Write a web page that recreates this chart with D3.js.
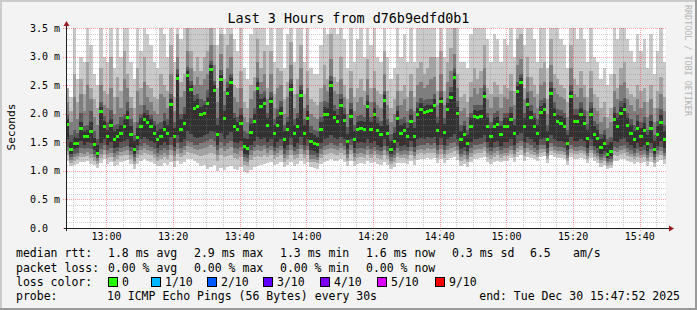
<!DOCTYPE html>
<meta charset="utf-8">
<style>
body {
  margin: 0;
  background: #f3f3f3;
}
text {
  font-family: "DejaVu Sans Mono", monospace;
  fill: #000;
}
</style>
<body>
<script src="https://cdn.jsdelivr.net/npm/d3@7/dist/d3.min.js"></script>
<script>

// one point per minute, 12:47:52 -> 15:47:52
var startTime = new Date(2025, 11, 30, 12, 47, 52),
    endTime = new Date(2025, 11, 30, 15, 47, 52);

var median = [
  1.82,1.38,1.49,1.49,1.75,1.61,1.61,1.70,1.47,1.31, 2.05,1.78,1.61,1.80,1.56,1.61,1.66,1.78,1.94,1.64,
  1.38,1.60,1.79,1.91,1.85,1.79,1.66,1.56,1.61,1.73, 1.66,2.17,1.61,2.62,1.74,1.84,2.68,2.43,2.10,2.13,
  2.00,2.01,2.19,2.78,2.41,1.64,2.61,1.93,2.36,2.55, 1.79,1.73,1.84,1.43,1.40,1.68,1.87,2.45,2.13,2.19,
  1.80,2.22,1.66,1.80,2.01,1.56,1.73,2.43,1.66,1.79, 2.33,1.66,1.93,1.52,1.49,1.47,1.73,2.00,2.00,2.50,
  1.94,1.87,2.15,1.89,1.52,1.96,1.56,1.73,1.75,1.73, 2.13,1.73,2.00,1.71,1.64,2.24,1.66,1.38,1.52,1.93,
  1.66,1.71,1.61,1.87,1.61,2.00,2.08,2.03,2.05,2.06, 2.15,1.71,2.22,1.68,2.08,2.29,2.64,2.01,1.56,1.64,
  1.49,1.79,1.96,1.94,1.96,2.31,1.79,1.61,1.79,1.82, 1.64,1.79,1.79,1.91,1.66,2.40,2.55,1.79,2.17,1.94,
  1.79,1.66,2.03,2.08,1.56,2.36,2.00,1.87,1.84,1.79, 1.49,2.31,1.87,1.87,2.00,1.84,1.58,2.00,1.64,1.58,
  1.42,1.49,1.30,1.35,1.91,1.79,2.01,2.08,1.80,1.66, 1.56,1.75,1.61,1.71,1.49,1.75,1.38,1.64,1.86,1.56
];

// sorted pings, rank 1 (fastest) .. rank 10 (slowest)
var ping1 = [
  1.18,1.08,1.10,1.12,1.15,1.16,1.17,1.12,1.10,1.05, 1.14,1.20,1.12,1.15,1.08,1.10,1.16,1.18,1.19,1.12,
  1.04,1.12,1.18,1.20,1.18,1.16,1.12,1.08,1.09,1.14, 1.10,1.16,1.06,1.18,1.12,1.15,1.20,1.20,1.17,1.14,
  1.08,1.10,1.04,1.06,1.10,1.00,1.05,1.02,1.06,1.08, 1.04,1.02,1.06,0.98,0.96,1.02,1.06,1.08,1.10,1.12,
  1.14,1.16,1.10,1.12,1.16,1.06,1.10,1.15,1.08,1.12, 1.18,1.12,1.16,1.06,1.05,1.04,1.12,1.16,1.18,1.20,
  1.18,1.17,1.20,1.16,1.08,1.18,1.09,1.12,1.14,1.12, 1.17,1.13,1.16,1.12,1.10,1.16,1.11,1.04,1.07,1.14,
  1.13,1.13,1.12,1.17,1.11,1.19,1.21,1.20,1.22,1.21, 1.22,1.14,1.20,1.13,1.19,1.22,1.24,1.19,1.09,1.12,
  1.06,1.16,1.20,1.21,1.22,1.24,1.16,1.12,1.16,1.18, 1.15,1.18,1.18,1.22,1.16,1.24,1.28,1.18,1.25,1.22,
  1.20,1.17,1.25,1.26,1.14,1.28,1.24,1.22,1.22,1.20, 1.10,1.24,1.21,1.21,1.23,1.21,1.14,1.23,1.17,1.14,
  1.07,1.10,1.03,1.05,1.18,1.17,1.20,1.21,1.17,1.15, 1.12,1.16,1.13,1.15,1.09,1.16,1.07,1.15,1.19,1.12
];
var ping2 = [
  1.27,1.14,1.18,1.20,1.25,1.24,1.26,1.22,1.18,1.12, 1.23,1.30,1.22,1.25,1.18,1.20,1.26,1.28,1.28,1.21,
  1.12,1.22,1.28,1.32,1.29,1.27,1.23,1.18,1.20,1.24, 1.20,1.28,1.18,1.30,1.24,1.27,1.33,1.32,1.29,1.27,
  1.26,1.28,1.30,1.32,1.30,1.18,1.27,1.24,1.26,1.28, 1.22,1.20,1.24,1.10,1.08,1.19,1.24,1.26,1.25,1.28,
  1.24,1.28,1.20,1.24,1.28,1.16,1.21,1.28,1.20,1.23, 1.30,1.22,1.28,1.15,1.15,1.13,1.23,1.28,1.30,1.32,
  1.30,1.28,1.32,1.28,1.17,1.29,1.18,1.23,1.25,1.23, 1.28,1.23,1.27,1.22,1.20,1.28,1.21,1.12,1.16,1.25,
  1.22,1.22,1.21,1.27,1.20,1.29,1.31,1.30,1.32,1.31, 1.32,1.23,1.30,1.22,1.29,1.32,1.34,1.29,1.18,1.21,
  1.15,1.25,1.30,1.31,1.32,1.34,1.25,1.21,1.25,1.27, 1.23,1.26,1.26,1.30,1.24,1.33,1.36,1.26,1.33,1.30,
  1.27,1.24,1.32,1.33,1.21,1.35,1.31,1.29,1.29,1.27, 1.17,1.32,1.29,1.29,1.31,1.29,1.21,1.31,1.25,1.21,
  1.14,1.17,1.09,1.11,1.28,1.26,1.30,1.31,1.26,1.24, 1.20,1.25,1.22,1.24,1.17,1.25,1.14,1.24,1.28,1.20
];
var ping3 = [
  1.34,1.19,1.24,1.26,1.32,1.30,1.33,1.30,1.24,1.17, 1.30,1.37,1.29,1.32,1.25,1.27,1.33,1.35,1.36,1.28,
  1.18,1.29,1.36,1.40,1.37,1.34,1.30,1.25,1.28,1.32, 1.28,1.36,1.26,1.39,1.32,1.36,1.43,1.41,1.38,1.36,
  1.38,1.40,1.42,1.45,1.42,1.28,1.40,1.35,1.38,1.42, 1.32,1.30,1.34,1.18,1.16,1.28,1.34,1.37,1.35,1.38,
  1.32,1.36,1.27,1.32,1.36,1.23,1.28,1.37,1.27,1.30, 1.38,1.29,1.36,1.21,1.21,1.19,1.30,1.36,1.38,1.40,
  1.38,1.36,1.40,1.36,1.23,1.37,1.25,1.30,1.32,1.30, 1.36,1.30,1.34,1.29,1.27,1.36,1.28,1.18,1.22,1.32,
  1.28,1.29,1.27,1.34,1.26,1.36,1.38,1.37,1.40,1.38, 1.40,1.30,1.38,1.29,1.36,1.40,1.42,1.36,1.24,1.27,
  1.21,1.32,1.37,1.38,1.39,1.42,1.32,1.27,1.32,1.34, 1.29,1.32,1.32,1.36,1.30,1.40,1.44,1.32,1.40,1.37,
  1.33,1.30,1.38,1.39,1.26,1.41,1.37,1.35,1.35,1.33, 1.22,1.38,1.35,1.35,1.37,1.35,1.26,1.37,1.30,1.26,
  1.19,1.22,1.13,1.15,1.35,1.33,1.37,1.38,1.33,1.30, 1.26,1.31,1.28,1.30,1.22,1.31,1.19,1.30,1.35,1.26
];
var ping4 = [
  1.42,1.25,1.30,1.32,1.40,1.38,1.40,1.38,1.30,1.22, 1.38,1.45,1.36,1.40,1.32,1.34,1.40,1.42,1.44,1.35,
  1.25,1.36,1.44,1.48,1.45,1.42,1.38,1.32,1.36,1.40, 1.36,1.45,1.34,1.48,1.40,1.44,1.52,1.50,1.46,1.45,
  1.48,1.50,1.52,1.55,1.52,1.36,1.50,1.44,1.48,1.52, 1.40,1.38,1.42,1.24,1.22,1.36,1.42,1.46,1.44,1.46,
  1.40,1.44,1.34,1.40,1.44,1.30,1.36,1.45,1.34,1.38, 1.46,1.36,1.44,1.28,1.28,1.25,1.38,1.44,1.46,1.48,
  1.46,1.44,1.48,1.44,1.30,1.45,1.32,1.38,1.40,1.38, 1.44,1.38,1.42,1.36,1.34,1.44,1.35,1.24,1.28,1.40,
  1.35,1.36,1.34,1.42,1.33,1.44,1.46,1.45,1.48,1.46, 1.48,1.37,1.46,1.36,1.44,1.48,1.50,1.44,1.30,1.34,
  1.27,1.40,1.45,1.46,1.47,1.50,1.40,1.34,1.40,1.42, 1.36,1.40,1.40,1.44,1.37,1.48,1.52,1.40,1.48,1.45,
  1.40,1.36,1.45,1.46,1.32,1.48,1.44,1.42,1.42,1.40, 1.28,1.46,1.42,1.42,1.44,1.42,1.32,1.44,1.36,1.32,
  1.24,1.27,1.18,1.20,1.42,1.40,1.44,1.46,1.40,1.37, 1.32,1.38,1.34,1.37,1.28,1.38,1.24,1.36,1.42,1.32
];
var ping5 = [
  1.55,1.30,1.38,1.40,1.52,1.45,1.50,1.48,1.36,1.26, 1.48,1.55,1.45,1.50,1.40,1.42,1.50,1.52,1.55,1.42,
  1.30,1.45,1.55,1.60,1.56,1.52,1.48,1.40,1.45,1.50, 1.46,1.60,1.42,1.62,1.50,1.55,1.70,1.65,1.60,1.58,
  1.60,1.62,1.65,1.70,1.68,1.45,1.66,1.55,1.62,1.68, 1.50,1.48,1.52,1.30,1.28,1.45,1.52,1.60,1.55,1.58,
  1.50,1.55,1.42,1.50,1.55,1.38,1.45,1.58,1.42,1.48, 1.60,1.45,1.55,1.36,1.35,1.32,1.48,1.55,1.58,1.62,
  1.58,1.55,1.60,1.55,1.38,1.56,1.40,1.48,1.50,1.48, 1.55,1.48,1.52,1.46,1.42,1.55,1.44,1.30,1.36,1.50,
  1.44,1.46,1.42,1.52,1.42,1.55,1.58,1.56,1.60,1.58, 1.60,1.46,1.58,1.45,1.55,1.60,1.65,1.55,1.38,1.42,
  1.34,1.50,1.56,1.56,1.58,1.62,1.50,1.42,1.50,1.52, 1.44,1.50,1.50,1.55,1.45,1.62,1.66,1.50,1.60,1.56,
  1.50,1.45,1.56,1.58,1.40,1.62,1.55,1.52,1.52,1.50, 1.36,1.60,1.52,1.52,1.55,1.52,1.40,1.55,1.44,1.40,
  1.30,1.34,1.22,1.26,1.52,1.50,1.55,1.58,1.50,1.45, 1.40,1.48,1.42,1.46,1.35,1.48,1.30,1.44,1.52,1.40
];
var ping6 = [
  1.90,1.50,1.60,1.58,1.85,1.70,1.72,1.86,1.58,1.45, 2.12,1.88,1.72,1.90,1.70,1.74,1.80,1.90,2.05,1.78,
  1.52,1.75,1.92,2.02,1.98,1.90,1.80,1.70,1.74,1.88, 1.80,2.25,1.75,2.70,1.90,2.00,2.75,2.50,2.22,2.25,
  2.12,2.15,2.30,2.85,2.50,1.80,2.68,2.05,2.45,2.62, 1.92,1.86,1.98,1.58,1.55,1.82,2.00,2.55,2.25,2.30,
  1.92,2.30,1.80,1.95,2.12,1.70,1.85,2.52,1.80,1.92, 2.42,1.80,2.05,1.66,1.62,1.60,1.86,2.12,2.10,2.58,
  2.05,1.98,2.25,2.00,1.65,2.08,1.70,1.85,1.88,1.86, 2.22,1.85,2.10,1.84,1.78,2.32,1.80,1.52,1.66,2.04,
  1.80,1.84,1.75,1.98,1.75,2.10,2.18,2.14,2.15,2.16, 2.25,1.84,2.30,1.82,2.18,2.38,2.72,2.12,1.70,1.78,
  1.62,1.92,2.06,2.05,2.06,2.40,1.92,1.75,1.92,1.94, 1.78,1.92,1.92,2.02,1.80,2.48,2.62,1.92,2.28,2.05,
  1.92,1.80,2.14,2.18,1.70,2.45,2.10,1.98,1.96,1.92, 1.62,2.40,1.98,1.98,2.10,1.96,1.72,2.10,1.78,1.72,
  1.55,1.62,1.45,1.50,2.02,1.92,2.12,2.18,1.92,1.80, 1.70,1.88,1.75,1.84,1.62,1.88,1.52,1.78,1.98,1.70
];
var ping7 = [
  1.98,1.62,1.72,1.66,2.02,1.78,1.80,2.05,1.70,1.55, 2.20,1.96,1.85,2.06,1.80,1.82,1.95,2.00,2.20,1.90,
  1.62,1.86,2.00,2.15,2.06,1.98,1.88,1.82,1.85,2.02, 1.90,2.35,1.86,2.78,2.00,2.12,2.82,2.58,2.32,2.34,
  2.25,2.22,2.42,2.92,2.58,1.92,2.76,2.15,2.55,2.70, 2.02,1.95,2.10,1.70,1.66,1.92,2.10,2.62,2.35,2.40,
  2.02,2.38,1.90,2.08,2.22,1.80,1.95,2.60,1.90,2.02, 2.50,1.90,2.15,1.78,1.72,1.70,1.95,2.22,2.20,2.66,
  2.15,2.08,2.35,2.10,1.76,2.18,1.80,1.96,1.98,1.95, 2.32,1.95,2.20,1.94,1.88,2.40,1.90,1.64,1.76,2.14,
  1.90,1.94,1.86,2.08,1.85,2.20,2.28,2.24,2.25,2.26, 2.35,1.94,2.40,1.92,2.28,2.46,2.80,2.22,1.80,1.88,
  1.72,2.02,2.16,2.15,2.16,2.50,2.02,1.86,2.02,2.04, 1.88,2.02,2.02,2.12,1.90,2.56,2.70,2.02,2.38,2.15,
  2.02,1.90,2.24,2.28,1.80,2.55,2.20,2.08,2.06,2.02, 1.72,2.50,2.08,2.08,2.20,2.06,1.82,2.20,1.88,1.82,
  1.65,1.72,1.56,1.60,2.12,2.02,2.22,2.28,2.02,1.90, 1.80,1.98,1.85,1.94,1.72,1.98,1.62,1.88,2.08,1.80
];
var ping8 = [
  2.20,1.85,2.30,1.90,2.35,2.05,2.50,2.25,1.95,1.80, 2.50,2.15,2.10,2.45,2.00,2.30,2.10,2.60,2.45,2.10,
  1.85,2.40,2.15,2.55,2.30,2.20,2.05,2.00,2.35,2.30, 2.10,2.70,2.05,3.00,2.30,2.40,3.10,2.80,2.50,2.65,
  2.50,2.60,2.70,3.20,2.85,2.20,3.05,2.40,2.80,3.00, 2.30,2.20,2.45,1.95,1.85,2.25,2.40,2.90,2.55,2.70,
  2.25,2.70,2.10,2.45,2.50,2.00,2.30,2.85,2.10,2.35, 2.80,2.10,2.45,2.00,1.95,1.90,2.20,2.50,2.40,2.95,
  2.40,2.35,2.60,2.30,2.00,2.45,2.05,2.20,2.30,2.15, 2.60,2.20,2.45,2.15,2.10,2.70,2.15,1.85,2.00,2.40,
  2.15,2.25,2.05,2.40,2.05,2.50,2.55,2.45,2.50,2.60, 2.65,2.15,2.70,2.15,2.55,2.75,3.05,2.45,2.05,2.10,
  1.95,2.30,2.45,2.35,2.45,2.80,2.25,2.10,2.30,2.30, 2.10,2.30,2.25,2.40,2.15,2.85,2.95,2.25,2.65,2.40,
  2.30,2.10,2.50,2.55,2.00,2.85,2.45,2.35,2.30,2.25, 1.95,2.80,2.35,2.30,2.45,2.30,2.05,2.45,2.10,2.05,
  1.85,1.95,1.75,1.85,2.40,2.25,2.50,2.55,2.25,2.15, 2.05,2.25,2.10,2.20,1.95,2.25,1.85,2.10,2.35,2.05
];
var ping9 = [
  2.45,2.05,2.70,2.20,2.60,2.35,2.90,2.45,2.25,2.10, 2.80,2.40,2.35,3.00,2.30,2.65,2.40,3.10,2.70,2.30,
  2.10,2.80,2.45,3.00,2.50,2.45,2.30,2.25,2.70,2.50, 2.40,3.20,2.30,3.40,2.55,2.70,3.60,3.10,2.75,3.00,
  2.75,3.00,3.10,3.70,3.20,2.45,3.40,2.60,3.20,3.40, 2.50,2.45,2.75,2.20,2.10,2.50,2.65,3.30,2.80,3.10,
  2.45,3.10,2.35,2.80,2.75,2.25,2.55,3.25,2.35,2.60, 3.20,2.35,2.75,2.25,2.20,2.15,2.45,2.85,2.60,3.40,
  2.65,2.55,3.00,2.50,2.25,2.75,2.30,2.45,2.60,2.40, 2.95,2.45,2.75,2.40,2.35,3.10,2.40,2.10,2.25,2.70,
  2.40,2.50,2.30,2.70,2.30,2.80,2.90,2.70,2.80,3.00, 3.00,2.40,3.10,2.40,2.90,3.15,3.50,2.70,2.30,2.35,
  2.20,2.55,2.80,2.60,2.75,3.20,2.45,2.35,2.55,2.50, 2.35,2.50,2.45,2.70,2.40,3.30,3.40,2.45,3.00,2.65,
  2.50,2.35,2.80,2.90,2.25,3.30,2.70,2.60,2.50,2.45, 2.20,3.20,2.60,2.50,2.75,2.50,2.30,2.75,2.35,2.30,
  2.10,2.20,1.95,2.10,2.70,2.45,2.80,2.90,2.45,2.35, 2.30,2.50,2.40,2.45,2.20,2.50,2.10,2.40,2.65,2.30
];
var ping10 = [
  2.40,2.30,3.70,2.60,3.00,2.90,4.00,3.20,2.70,2.50, 3.80,3.00,2.90,4.20,2.80,3.60,3.00,4.30,3.70,2.90,
  2.60,3.90,3.10,4.10,3.40,3.20,2.90,2.80,3.80,3.40, 3.00,4.30,2.90,4.50,3.30,3.60,4.80,4.20,3.60,4.10,
  3.60,4.10,4.20,4.90,4.30,3.20,4.50,3.40,4.30,4.50, 3.30,3.10,3.80,2.80,2.60,3.40,3.60,4.40,3.70,4.20,
  3.20,4.20,2.90,3.80,3.70,2.80,3.40,4.30,2.90,3.50, 4.30,2.90,3.70,2.80,2.70,2.70,3.20,3.90,3.40,4.50,
  3.50,3.40,4.10,3.30,2.80,3.70,2.90,3.30,3.60,3.00, 4.00,3.20,3.70,3.00,2.90,4.20,3.00,2.60,2.80,3.70,
  3.00,3.40,2.90,3.70,2.90,3.80,4.00,3.60,3.80,4.10, 4.10,3.00,4.20,3.00,3.90,4.30,4.70,3.60,2.90,2.90,
  2.80,3.40,3.80,3.50,3.70,4.30,3.30,2.90,3.40,3.30, 2.90,3.30,3.20,3.60,3.00,4.40,4.60,3.20,4.00,3.50,
  3.30,2.90,3.80,3.90,2.80,4.40,3.60,3.50,3.30,3.20, 2.80,4.30,3.50,3.30,3.70,3.30,2.90,3.70,3.00,2.90,
  2.60,2.80,2.50,2.70,3.60,3.30,3.80,3.90,3.30,3.10, 2.90,3.40,3.10,3.30,2.80,3.40,2.70,3.10,3.60,2.90
];

var smokeColors = ["#cacaca", "#a4a4a4", "#7e7e7e", "#585858", "#323232"];

var title = "Last 3 Hours from d76b9edfd0b1";
var yLabel = "Seconds";

var medianStats = ["1.8 ms avg", "2.9 ms max", "1.3 ms min", "1.6 ms now", "0.3 ms sd", "6.5", "am/s"];
var lossStats = ["0.00 % avg", "0.00 % max", "0.00 % min", "0.00 % now"];
var lossLabels = ["0", "1/10", "2/10", "3/10", "4/10", "5/10", "9/10"];
var lossColors = ["#26ff00", "#00b8ff", "#0059ff", "#5e00ff", "#7e00ff", "#dd00ff", "#ff0000"];
var probeText = "10 ICMP Echo Pings (56 Bytes) every 30s";
var endText = "end: Tue Dec 30 15:47:52 2025";

var width = 697,
    height = 310;

var plot = {left: 66, right: 666, top: 28, bottom: 228};

var x = d3.scaleTime().domain([startTime, endTime]).range([plot.left, plot.right]);
var y = d3.scaleLinear().domain([0, 3.5]).range([plot.bottom, plot.top]);

var stepTime = function(i) { return d3.timeMinute.offset(startTime, i); };
var sx = function(i) { return Math.round(x(stepTime(i))); };

var svg = d3.select("body").append("svg")
    .attr("width", width)
    .attr("height", height)
    .style("display", "block");

// background + rrdtool style frame
svg.append("rect").attr("width", width).attr("height", height).attr("fill", "#f3f3f3");
svg.append("path").attr("d", "M0,0H" + width + "V2H2V" + height + "H0Z").attr("fill", "#cbcbcb");
svg.append("path").attr("d", "M" + width + "," + height + "H0V" + (height - 2) + "H" + (width - 2) + "V0H" + width + "Z").attr("fill", "#999999");

svg.append("rect")
    .attr("x", plot.left)
    .attr("y", plot.top)
    .attr("width", plot.right - plot.left)
    .attr("height", plot.bottom - plot.top)
    .attr("fill", "#fff");

svg.append("clipPath").attr("id", "clip")
  .append("rect")
    .attr("x", plot.left)
    .attr("y", plot.top)
    .attr("width", plot.right - plot.left)
    .attr("height", plot.bottom - plot.top);

var gPlot = svg.append("g").attr("clip-path", "url(#clip)").attr("shape-rendering", "crispEdges");

// smoke: outer pair first, inner pairs on top
var layers = [[ping1, ping10], [ping2, ping9], [ping3, ping8], [ping4, ping7], [ping5, ping6]];

layers.forEach(function(pair, li) {
  gPlot.append("g")
    .selectAll("rect")
    .data(d3.range(median.length))
    .join("rect")
      .attr("x", function(i) { return sx(i); })
      .attr("width", function(i) { return sx(i + 1) - sx(i); })
      .attr("y", function(i) { return y(pair[1][i]); })
      .attr("height", function(i) { return y(pair[0][i]) - y(pair[1][i]); })
      .attr("fill", smokeColors[li]);
});

// median, coloured by loss (all 0 here)
gPlot.append("g")
  .selectAll("rect")
  .data(median)
  .join("rect")
    .attr("x", function(d, i) { return sx(i); })
    .attr("width", function(d, i) { return sx(i + 1) - sx(i); })
    .attr("y", function(d) { return Math.round(y(d)) - 1; })
    .attr("height", 3)
    .attr("fill", lossColors[0]);

// grid on top, drawn as 1px dots
var gGrid = svg.append("g");

var minorT = x.ticks(d3.timeMinute.every(5)).filter(function(t) { return t.getMinutes() % 20 != 0; });
var majorT = x.ticks(d3.timeMinute.every(20));
var minorY = d3.range(1, 35).filter(function(k) { return k % 5 != 0; }).map(function(k) { return k / 10; });
var majorY = y.ticks(7);

var minorColor = "rgba(128,128,128,0.36)",
    majorColor = "rgba(255,0,0,0.36)";

function vDots(data, color, y2) {
  gGrid.append("g").selectAll("path")
    .data(data)
    .join("path")
      .attr("d", function(d) {
        var px = Math.round(x(d)) + 0.5;
        return d3.range(plot.top, y2, 2).map(function(py) { return "M" + px + "," + py + "v1"; }).join("");
      })
      .attr("stroke", color)
      .attr("fill", "none");
}
function hDots(data, color, x1) {
  gGrid.append("g").selectAll("path")
    .data(data)
    .join("path")
      .attr("d", function(d) {
        var py = Math.round(y(d)) + 0.5;
        return d3.range(x1, plot.right, 2).map(function(px) { return "M" + px + "," + py + "h1"; }).join("");
      })
      .attr("stroke", color)
      .attr("fill", "none");
}

vDots(minorT, minorColor, plot.bottom);
hDots(minorY, minorColor, plot.left + 1);
vDots(majorT, majorColor, plot.bottom + 3);
hDots(majorY, majorColor, plot.left - 3);

// axes
var axisColor = "#202020", arrowColor = "#9b1c1c";
gGrid.append("path")
    .attr("d", "M" + (plot.left - 2) + "," + (plot.bottom + 0.5) + "H" + (plot.right + 3))
    .attr("stroke", axisColor);
gGrid.append("path")
    .attr("d", "M" + (plot.left + 0.5) + "," + (plot.bottom + 3) + "V" + (plot.top - 3))
    .attr("stroke", axisColor);

svg.append("path")
    .attr("d", "M" + (plot.right + 3) + "," + (plot.bottom - 2.5) + "L" + (plot.right + 8) + "," + (plot.bottom + 0.5) + "L" + (plot.right + 3) + "," + (plot.bottom + 3.5) + "Z")
    .attr("fill", arrowColor);
svg.append("path")
    .attr("d", "M" + (plot.left - 2.5) + "," + (plot.top - 2) + "L" + (plot.left + 0.5) + "," + (plot.top - 7) + "L" + (plot.left + 3.5) + "," + (plot.top - 2) + "Z")
    .attr("fill", arrowColor);

// tick labels
svg.append("g").selectAll("text")
  .data(majorY)
  .join("text")
    .attr("x", 30)
    .attr("y", function(d) { return y(d) + 3.5; })
    .style("font-size", "10px")
    .text(function(d) { return d == 0 ? "0.0" : d3.format(".1f")(d) + " m"; });

svg.append("g").selectAll("text")
  .data(majorT)
  .join("text")
    .attr("x", function(d) { return x(d); })
    .attr("y", 240)
    .attr("text-anchor", "middle")
    .style("font-size", "10px")
    .text(d3.timeFormat("%H:%M"));

// titles
svg.append("text")
    .attr("x", width / 2)
    .attr("y", 23)
    .attr("text-anchor", "middle")
    .style("font-size", "13.4px")
    .text(title);

svg.append("text")
    .attr("transform", "translate(15,127)rotate(-90)")
    .attr("text-anchor", "middle")
    .style("font-size", "11.2px")
    .text(yLabel);

svg.append("text")
    .attr("transform", "translate(685,5)rotate(90)")
    .style("font-size", "8.4px")
    .style("fill", "#b4b4b4")
    .text("RRDTOOL / TOBI OETIKER");

// legend
var legend = svg.append("g").style("font-size", "11.5px");
var rowY = [257, 271.5, 286, 300];
var statX = [108, 194, 280, 366, 452, 530, 573];

legend.append("text").attr("x", 16).attr("y", rowY[0]).text("median rtt:");
legend.selectAll(".ms").data(medianStats).join("text")
    .attr("x", function(d, i) { return statX[i]; })
    .attr("y", rowY[0])
    .text(function(d) { return d; });

legend.append("text").attr("x", 16).attr("y", rowY[1]).text("packet loss:");
legend.selectAll(".ls").data(lossStats).join("text")
    .attr("x", function(d, i) { return statX[i]; })
    .attr("y", rowY[1])
    .text(function(d) { return d; });

legend.append("text").attr("x", 16).attr("y", rowY[2]).text("loss color:");
var boxX = [108, 151, 207, 263, 320, 377, 435];
var swatch = legend.selectAll(".sw").data(lossLabels).join("g")
    .attr("transform", function(d, i) { return "translate(" + boxX[i] + "," + (rowY[2] - 9) + ")"; });
swatch.append("rect")
    .attr("x", 0.5).attr("y", 0.5)
    .attr("width", 9).attr("height", 9)
    .attr("fill", function(d, i) { return lossColors[i]; })
    .attr("stroke", "#000");
swatch.append("text")
    .attr("x", 14)
    .attr("y", 9)
    .text(function(d) { return d; });

legend.append("text").attr("x", 16).attr("y", rowY[3]).text("probe:");
legend.append("text").attr("x", 107).attr("y", rowY[3]).text(probeText);
legend.append("text").attr("x", 680).attr("y", rowY[3]).attr("text-anchor", "end").text(endText);

</script>
